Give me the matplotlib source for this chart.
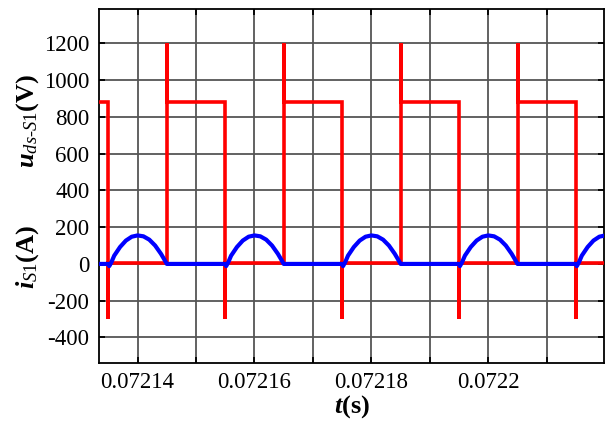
import numpy as np
import matplotlib
matplotlib.use("Agg")
import matplotlib.pyplot as plt

plt.rcParams['font.family'] = ['Liberation Serif', 'DejaVu Serif']
plt.rcParams['axes.unicode_minus'] = False
plt.rcParams['mathtext.fontset'] = 'custom'
plt.rcParams['mathtext.rm'] = 'Liberation Serif'
plt.rcParams['mathtext.it'] = 'Liberation Serif:italic'
plt.rcParams['mathtext.bf'] = 'Liberation Serif:bold'
plt.rcParams['mathtext.bfit'] = 'Liberation Serif:italic:bold'

# switching instants of S1 (s)
t_off_to_on = [0.072135, 0.072155, 0.072175, 0.072195, 0.072215]  # u_ds falls
t_on_to_off = [0.072145, 0.072165, 0.072185, 0.072205]            # u_ds rises

# voltage levels (V)
u_block = 880
u_spike = 1200
u_neg_spike = -300
u_cond = 5

# current pulse shape during conduction: time from turn-on (us), current (A)
pulse_us = [0.0, 0.15, 0.5, 1.0, 2.0, 3.0, 4.0, 5.0, 6.0, 7.0, 8.0, 9.0, 9.5, 10.0]
pulse_a = [0, -12, 8, 45, 92, 127, 148, 155, 150, 132, 100, 55, 28, 0]

t_min, t_max = 0.0721334, 0.0722198
x_ticks = [0.07214, 0.07216, 0.07218, 0.0722]
x_labels = ['0.07214', '0.07216', '0.07218', '0.0722']
x_minor = [0.07215, 0.07217, 0.07219, 0.07221]
y_ticks = [-400, -200, 0, 200, 400, 600, 800, 1000, 1200]

# u_ds trace
ut = [0.07213]
uv = [u_block]
for k, tf in enumerate(t_off_to_on):
    ut += [tf, tf, tf]
    uv += [u_block, u_neg_spike, u_cond]
    if k < len(t_on_to_off):
        tr = t_on_to_off[k]
        ut += [tr, tr, tr]
        uv += [u_cond, u_spike, u_block]
ut.append(0.07223)
uv.append(u_cond)

# i_S1 trace
it = [0.07213]
iv = [0]
for tf in t_off_to_on:
    for dt, a in zip(pulse_us, pulse_a):
        it.append(tf + dt * 1e-6)
        iv.append(a)
it.append(0.07223)
iv.append(0)

fig = plt.figure(figsize=(6.09, 4.21), dpi=100)
ax = fig.add_axes([0.1626, 0.1385, 0.8292, 0.8401])

ax.plot(ut, uv, color='#ff0000', lw=2.6, solid_joinstyle='miter', zorder=3)
ax.plot(it, iv, color='#0000ff', lw=3.0, zorder=4)

ax.set_xlim(t_min, t_max)
ax.set_ylim(-537, 1386)
ax.set_xticks(x_ticks)
ax.set_xticklabels(x_labels)
ax.set_xticks(x_minor, minor=True)
ax.set_yticks(y_ticks)

ax.grid(True, which='both', axis='x', color='#555555', lw=1.3)
ax.grid(True, which='major', axis='y', color='#555555', lw=1.3)
ax.set_axisbelow(True)

ax.tick_params(which='both', direction='in', top=True, right=True,
               length=4, width=1.3, labelsize=16.5, pad=7)
for s in ax.spines.values():
    s.set_linewidth(1.3)

ax.set_xlabel(r'$\mathbfit{t}$(s)', fontsize=19, fontweight='bold', labelpad=0)

fig.text(0.046, 0.712, r'$\mathbfit{u}_{\mathit{ds}\text{-}\mathit{S1}}$(V)',
         rotation=90, fontsize=19, fontweight='bold', ha='center', va='center')
fig.text(0.046, 0.39, r'$\mathbfit{i}_{\mathit{S1}}$(A)',
         rotation=90, fontsize=19, fontweight='bold', ha='center', va='center')

fig.savefig('out.png', dpi=100)
